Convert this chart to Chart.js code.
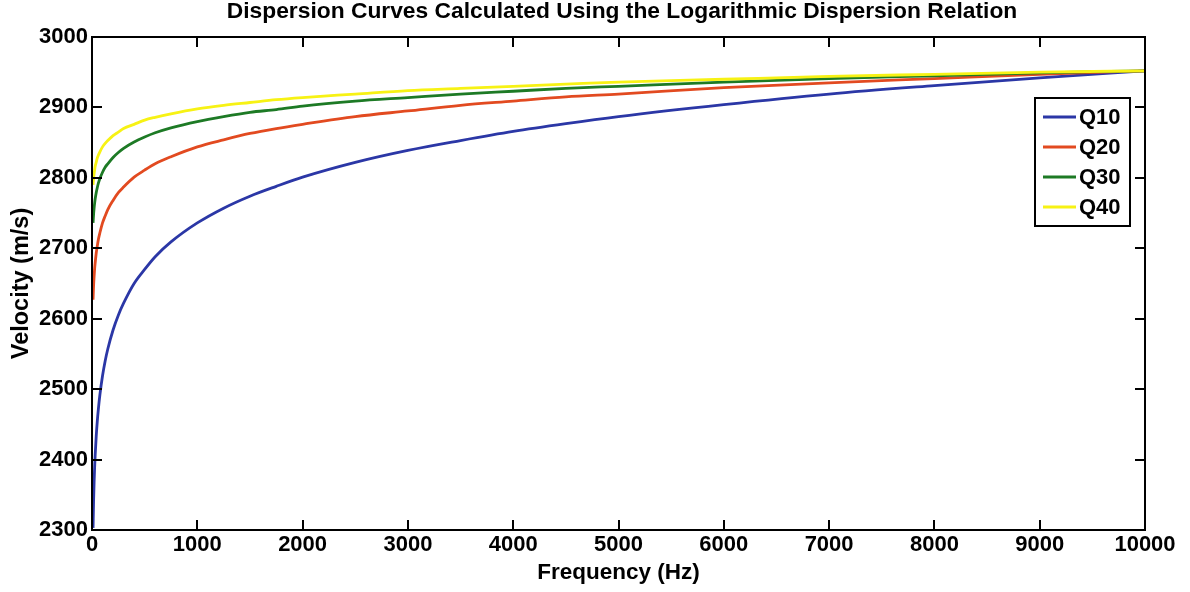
<!DOCTYPE html>
<html><head><meta charset="utf-8">
<script src="https://cdn.jsdelivr.net/npm/chart.js@4.4.1/dist/chart.umd.min.js"></script>
<style>html,body{margin:0;padding:0;background:#fff;overflow:hidden;}</style>
</head><body>
<canvas id="c" width="1190" height="592" style="width:1190px;height:592px;display:block"></canvas>
<script>
// ---- data ----
const frequencies = [10, 15, 20, 25, 30, 40, 50, 60, 75, 100, 125, 150, 200, 250, 300, 400, 500, 600, 750, 1000, 1250, 1500, 1750, 2000, 2500, 3000, 3500, 4000, 4500, 5000, 6000, 7000, 8000, 9000, 10000];
const velocityQ10 = [2303, 2341, 2368, 2389, 2406, 2433, 2454, 2471, 2492, 2519, 2540, 2557, 2584, 2605, 2622, 2650, 2670, 2688, 2709, 2736, 2757, 2774, 2788, 2801, 2822, 2839, 2853, 2866, 2877, 2887, 2904, 2919, 2931, 2942, 2952];
const velocityQ20 = [2627, 2647, 2660, 2671, 2679, 2693, 2703, 2712, 2722, 2736, 2746, 2755, 2768, 2779, 2787, 2801, 2811, 2820, 2830, 2844, 2854, 2863, 2870, 2876, 2887, 2895, 2903, 2909, 2915, 2919, 2928, 2935, 2941, 2947, 2952];
const velocityQ30 = [2736, 2748, 2757, 2764, 2770, 2779, 2786, 2792, 2799, 2808, 2815, 2820, 2829, 2836, 2842, 2851, 2858, 2864, 2871, 2880, 2887, 2893, 2897, 2902, 2909, 2914, 2919, 2923, 2927, 2930, 2936, 2941, 2945, 2949, 2952];
const velocityQ40 = [2790, 2799, 2806, 2811, 2816, 2822, 2828, 2832, 2837, 2844, 2849, 2853, 2860, 2865, 2870, 2876, 2882, 2886, 2891, 2898, 2903, 2907, 2911, 2914, 2919, 2924, 2927, 2930, 2933, 2936, 2940, 2944, 2947, 2950, 2952];
const seriesNames = ['Q10', 'Q20', 'Q30', 'Q40'];
const seriesValues = [velocityQ10, velocityQ20, velocityQ30, velocityQ40];
const xTickValues = [0, 1000, 2000, 3000, 4000, 5000, 6000, 7000, 8000, 9000, 10000];
const yTickValues = [2300, 2400, 2500, 2600, 2700, 2800, 2900, 3000];
const titleText = 'Dispersion Curves Calculated Using the Logarithmic Dispersion Relation';
const xTitle = 'Frequency (Hz)';
const yTitle = 'Velocity (m/s)';

// ---- styles ----
const seriesColors = ['#2b37a6', '#e24a20', '#1d7a25', '#f7f214'];
const FONT = "'Liberation Sans', Arial, Helvetica, sans-serif";

const datasets = seriesNames.map((name, i) => ({
  label: name,
  data: frequencies.map((f, k) => ({x: f, y: seriesValues[i][k]})),
  borderColor: seriesColors[i],
  backgroundColor: seriesColors[i],
  borderWidth: 2.8,
  pointRadius: 0,
  cubicInterpolationMode: 'monotone',
  fill: false,
  order: seriesNames.length - i
}));

const boxPlugin = {
  id: 'matlabBox',
  afterDatasetsDraw(chart) {
    const {ctx, chartArea: a, scales: {x, y}} = chart;
    ctx.save();
    ctx.strokeStyle = '#000';
    ctx.lineWidth = 2;
    ctx.lineCap = 'butt';
    ctx.strokeRect(a.left, a.top, a.right - a.left, a.bottom - a.top);
    const L = 10;
    ctx.beginPath();
    xTickValues.forEach(v => {
      const px = Math.round(x.getPixelForValue(v));
      if (px <= a.left + 2 || px >= a.right - 2) return;
      ctx.moveTo(px, a.bottom); ctx.lineTo(px, a.bottom - L);
      ctx.moveTo(px, a.top); ctx.lineTo(px, a.top + L);
    });
    yTickValues.forEach(v => {
      const py = Math.round(y.getPixelForValue(v));
      if (py <= a.top + 2 || py >= a.bottom - 2) return;
      ctx.moveTo(a.left, py); ctx.lineTo(a.left + L, py);
      ctx.moveTo(a.right, py); ctx.lineTo(a.right - L, py);
    });
    ctx.stroke();

    // title
    ctx.fillStyle = '#000';
    ctx.font = 'bold 22.8px ' + FONT;
    ctx.textAlign = 'center';
    ctx.textBaseline = 'alphabetic';
    ctx.fillText(titleText, 622, 18);

    // legend box inside the plot area
    const bx = 1035, by = 98, bw = 95, bh = 128;
    ctx.fillStyle = '#fff';
    ctx.fillRect(bx, by, bw, bh);
    ctx.strokeRect(bx, by, bw, bh);
    ctx.font = 'bold 22px ' + FONT;
    ctx.textBaseline = 'middle';
    ctx.textAlign = 'left';
    chart.data.datasets.forEach((ds, i) => {
      const ry = by + 19 + i * 30;
      ctx.strokeStyle = ds.borderColor;
      ctx.lineWidth = 2.8;
      ctx.beginPath(); ctx.moveTo(bx + 8, ry); ctx.lineTo(bx + 41, ry); ctx.stroke();
      ctx.fillStyle = '#000';
      ctx.fillText(ds.label, bx + 44, ry + 1);
    });
    ctx.restore();
  }
};

new Chart(document.getElementById('c'), {
  type: 'line',
  data: {datasets},
  options: {
    responsive: false,
    animation: false,
    layout: {padding: {left: 0, right: 45, top: 37, bottom: 0}},
    plugins: {
      legend: {display: false},
      tooltip: {enabled: false},
      title: {display: false}
    },
    scales: {
      x: {
        type: 'linear', min: 0, max: 10000,
        afterBuildTicks: s => { s.ticks = xTickValues.map(v => ({value: v})); },
        afterFit: s => { s.height = 62; },
        grid: {display: false, drawTicks: false},
        border: {display: false},
        ticks: {color: '#000', padding: 4, maxRotation: 0, autoSkip: false,
                callback: v => String(v),
                font: {family: FONT, size: 22, weight: 'bold', lineHeight: 1.0}},
        title: {display: true, text: xTitle, color: '#000', padding: {top: 0, bottom: 8},
                font: {family: FONT, size: 22.5, weight: 'bold', lineHeight: 1.0}}
      },
      y: {
        type: 'linear', min: 2300, max: 3000,
        afterBuildTicks: s => { s.ticks = yTickValues.map(v => ({value: v})); },
        afterFit: s => { s.width = 92; },
        grid: {display: false, drawTicks: false},
        border: {display: false},
        ticks: {color: '#000', padding: 4, autoSkip: false,
                callback: v => String(v),
                font: {family: FONT, size: 22, weight: 'bold', lineHeight: 1.0}},
        title: {display: true, text: yTitle, color: '#000', padding: {top: 10, bottom: 0},
                font: {family: FONT, size: 23.5, weight: 'bold', lineHeight: 1.0}}
      }
    }
  },
  plugins: [boxPlugin]
});
</script>
</body></html>
